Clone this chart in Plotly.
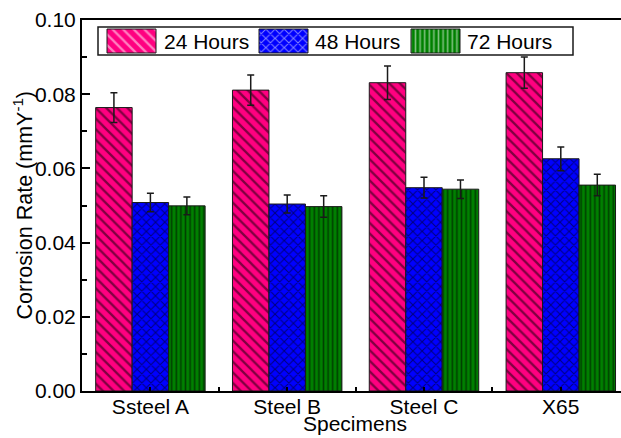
import plotly.graph_objects as go

# Corrosion rate of four specimens after 24, 48 and 72 hours of immersion
specimens = ["Ssteel A", "Steel B", "Steel C", "X65"]
series_names = ["24 Hours", "48 Hours", "72 Hours"]
rate_24h = [0.0764, 0.0811, 0.0831, 0.0858]
rate_48h = [0.0508, 0.0504, 0.0548, 0.0626]
rate_72h = [0.0499, 0.0497, 0.0544, 0.0555]
err_24h = [0.0040, 0.0041, 0.0045, 0.0042]
err_48h = [0.0025, 0.0024, 0.0028, 0.0032]
err_72h = [0.0024, 0.0029, 0.0025, 0.0029]

colors = ["#FF0080", "#0000FF", "#008000"]
shapes = ["\\", "x", "|"]
pattern_sizes = [7.5, 6.5, 4.6]
pattern_solidity = [0.3, 0.3, 0.35]

FONT = "Liberation Sans, Arial, sans-serif"
W, H = 621, 438
ML, MT, MB = 82, 20, 47
PW, PH = W - ML, H - MT - MB  # plot area in pixels

fig = go.Figure()

x_pos = list(range(len(specimens)))
for name, vals, errs, col, shp, psz, sol in zip(
        series_names, [rate_24h, rate_48h, rate_72h],
        [err_24h, err_48h, err_72h], colors, shapes, pattern_sizes,
        pattern_solidity):
    fig.add_trace(go.Bar(
        name=name, x=x_pos, y=vals,
        marker=dict(color=col,
                    line=dict(color="#1a1a1a", width=1),
                    pattern=dict(shape=shp, fgcolor="black", bgcolor=col,
                                 size=psz, solidity=sol)),
        error_y=dict(type="data", array=errs, visible=True,
                     color="#1a1a1a", thickness=1.5, width=3.5),
        showlegend=False,
    ))

# Legend keys drawn on a pixel-scaled overlay axis
key_x = [49.5, 201.5, 353.5]     # key centres, px from plot left
key_w = 49
key_top, key_h = 9, 24
text_x = [80, 231, 383]
legend_box = dict(x0=16, x1=491, y0=7, y1=35)

fig.add_trace(go.Bar(
    x=key_x, y=[key_h] * 3, base=[key_top] * 3, width=key_w,
    xaxis="x2", yaxis="y2",
    marker=dict(color=colors,
                line=dict(color="#1a1a1a", width=1),
                pattern=dict(shape=shapes, fgcolor="black", bgcolor=colors,
                             size=pattern_sizes, solidity=pattern_solidity)),
    showlegend=False, hoverinfo="skip",
))

annotations = []
for tx, name in zip(text_x, series_names):
    annotations.append(dict(x=tx, y=(legend_box["y0"] + legend_box["y1"]) / 2,
                            xref="x2", yref="y2", text=name, showarrow=False,
                            xanchor="left", yanchor="middle",
                            font=dict(family=FONT, size=21, color="black")))

# Axis titles (paper coordinates, placed by pixel offsets from the plot area)
annotations.append(dict(x=-60 / PW, y=0.5, xref="paper", yref="paper",
                        text="Corrosion Rate (mmY<sup>-1</sup>)",
                        textangle=-90, showarrow=False,
                        xanchor="center", yanchor="middle",
                        font=dict(family=FONT, size=21.5, color="black")))
annotations.append(dict(x=273 / PW, y=-(H - MT - 1 - PH) / PH,
                        xref="paper", yref="paper",
                        text="Specimens", showarrow=False,
                        xanchor="center", yanchor="bottom",
                        font=dict(family=FONT, size=21, color="black")))

fig.update_layout(
    width=W, height=H,
    margin=dict(l=ML, r=0, t=MT, b=MB),
    paper_bgcolor="white", plot_bgcolor="white",
    barmode="group", bargap=0.2, bargroupgap=0,
    font=dict(family=FONT, size=21, color="black"),
    annotations=annotations,
    shapes=[dict(type="rect", xref="x2", yref="y2", layer="below",
                 fillcolor="white", line=dict(color="#1a1a1a", width=1.5),
                 **legend_box)],
    xaxis=dict(range=[-0.5, -0.5 + PW / 136.8],
               tickvals=x_pos, ticktext=specimens,
               ticks="inside", ticklen=4, tickwidth=1.5, tickcolor="black",
               ticklabelstandoff=-4,
               minor=dict(tick0=0.5, dtick=1, ticks="inside", ticklen=4,
                          tickwidth=1.5, tickcolor="black"),
               showline=True, linecolor="black", linewidth=2, mirror=True,
               showgrid=False, zeroline=False,
               tickfont=dict(family=FONT, size=21, color="black")),
    yaxis=dict(range=[0, 0.10], dtick=0.02, tickformat=".2f",
               ticks="inside", ticklen=8, tickwidth=1.5, tickcolor="black",
               minor=dict(dtick=0.01, ticks="inside", ticklen=5,
                          tickwidth=1.5, tickcolor="black"),
               showline=True, linecolor="black", linewidth=2, mirror=False,
               showgrid=False, zeroline=False,
               tickfont=dict(family=FONT, size=21, color="black")),
    xaxis2=dict(overlaying="x", anchor="y2", range=[0, PW], visible=False,
                fixedrange=True),
    yaxis2=dict(overlaying="y", anchor="x2", range=[PH, 0], visible=False,
                fixedrange=True),
)

fig.write_html("out.html")
